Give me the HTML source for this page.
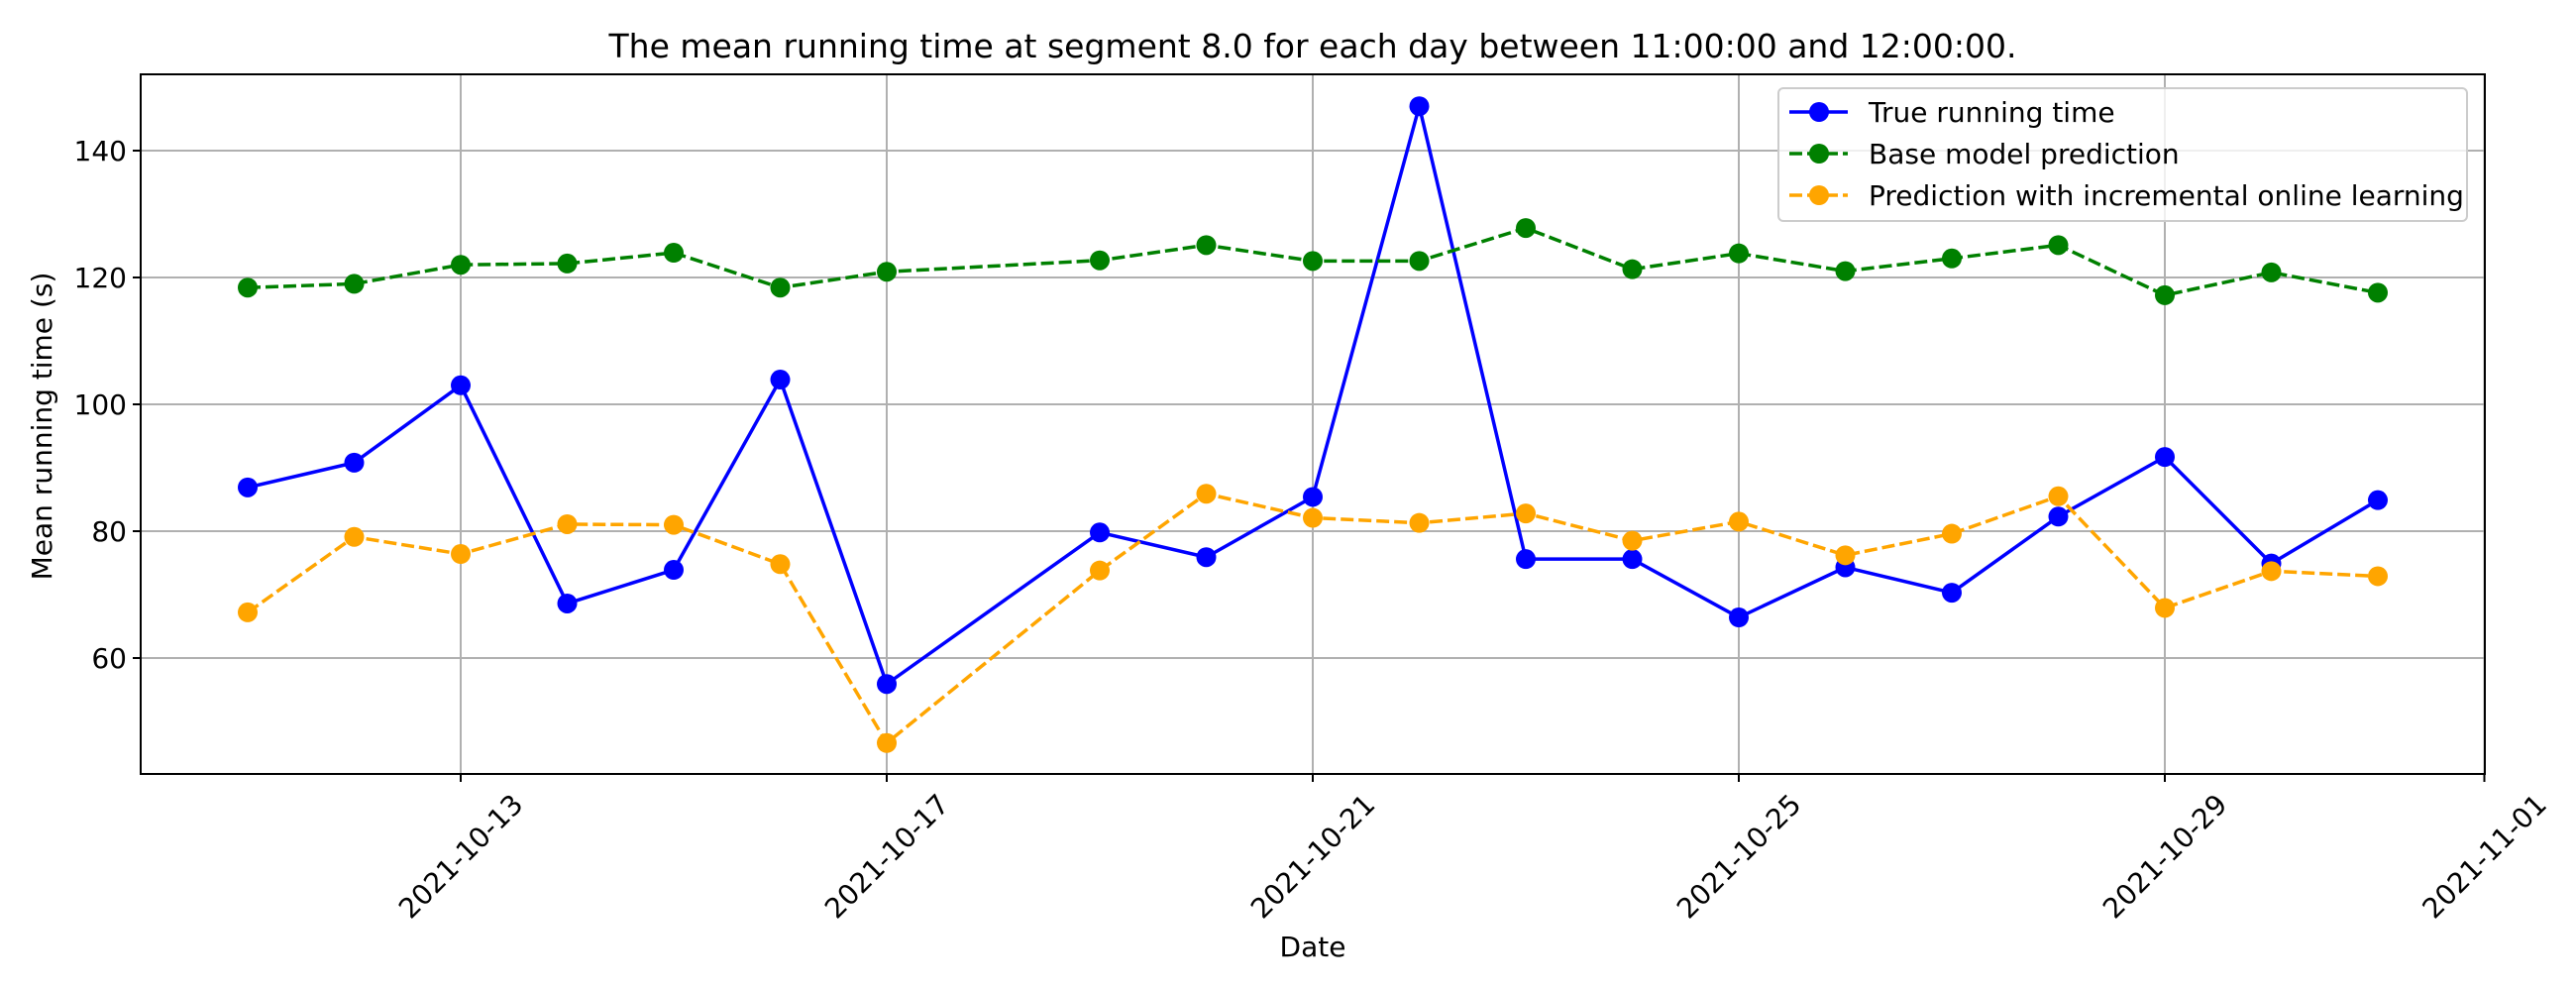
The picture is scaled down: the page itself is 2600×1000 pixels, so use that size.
<!DOCTYPE html>
<html><head><meta charset="utf-8"><style>
html,body{margin:0;padding:0;background:#fff;}
svg{display:block;font-family:"DejaVu Sans","Liberation Sans",sans-serif;}
</style></head><body>
<svg id="chart" width="2600" height="1000" viewBox="0 0 2600 1000" xmlns="http://www.w3.org/2000/svg">
<rect width="2600" height="1000" fill="#fff"/>
<text x="1325" y="58" font-size="33" text-anchor="middle" fill="#000">The mean running time at segment 8.0 for each day between 11:00:00 and 12:00:00.</text>
<g id="grid"></g>
<g id="series"></g>
<rect x="142" y="75" width="2366" height="706" fill="none" stroke="#000" stroke-width="2"/>
<g id="axes"></g>
<text transform="translate(52,430) rotate(-90)" font-size="28" text-anchor="middle">Mean running time (s)</text>
<text x="1325" y="965" font-size="28" text-anchor="middle">Date</text>
<g>
<rect x="1795" y="89" width="695" height="134" rx="5" fill="#fff" fill-opacity="0.8" stroke="#ccc" stroke-width="2"/>
<g><line x1="1806" y1="113" x2="1865" y2="113" stroke="blue" stroke-width="3.5"/><circle cx="1836" cy="113" r="10" fill="blue"/><text x="1886" y="123" font-size="28">True running time</text></g>
<g><line x1="1806" y1="155" x2="1865" y2="155" stroke="green" stroke-width="3.5" stroke-dasharray="13,5"/><circle cx="1836" cy="155" r="10" fill="green"/><text x="1886" y="165" font-size="28">Base model prediction</text></g>
<g><line x1="1806" y1="197" x2="1865" y2="197" stroke="orange" stroke-width="3.5" stroke-dasharray="13,5"/><circle cx="1836" cy="197" r="10" fill="orange"/><text x="1886" y="207" font-size="28">Prediction with incremental online learning</text></g>
</g>
</svg>
<script>
const days = [11,12,13,14,15,16,17,19,20,21,22,23,24,25,26,27,28,29,30,31];
const trueTime = [86.9,90.8,103,68.6,73.9,103.9,55.9,79.8,75.9,85.4,147,75.6,75.6,66.4,74.3,70.3,82.3,91.7,74.9,84.9];
const baseModel = [118.4,119,122,122.2,123.9,118.4,120.9,122.7,125.1,122.6,122.6,127.8,121.3,123.8,121,123,125.1,117.2,120.8,117.6];
const onlineModel = [67.2,79.1,76.4,81.1,81,74.8,46.6,73.8,85.9,82.1,81.3,82.8,78.5,81.5,76.2,79.6,85.5,67.9,73.7,72.9];
const yTicks = [60,80,100,120,140];
const xTickDays = [13,17,21,25,29,32];
const xTickLabels = ["2021-10-13","2021-10-17","2021-10-21","2021-10-25","2021-10-29","2021-11-01"];

const NS = "http://www.w3.org/2000/svg";
const xs = d => 250 + (d - 11) * 107.5;
const ys = v => 664 - (v - 60) * 6.4;
function mk(tag, attrs, parent){const e=document.createElementNS(NS,tag);for(const k in attrs)e.setAttribute(k,attrs[k]);parent.appendChild(e);return e;}
const grid=document.getElementById('grid'), axes=document.getElementById('axes'), series=document.getElementById('series');
yTicks.forEach(v=>{
  const g=mk('line',{x1:142,x2:2508,y1:ys(v),y2:ys(v),stroke:'#b0b0b0','stroke-width':2},grid);
  
  
  mk('line',{x1:134,x2:142,y1:ys(v),y2:ys(v),stroke:'#000','stroke-width':2},axes);
  const t=mk('text',{x:128,y:ys(v)+10,'font-size':28,'text-anchor':'end'},axes);
  
  
  t.textContent=v;
});
xTickDays.forEach((d,i)=>{
  const x=xs(d);
  const g=mk('line',{x1:x,x2:x,y1:75,y2:781,stroke:'#b0b0b0','stroke-width':2},grid);
  
  
  mk('line',{x1:x,x2:x,y1:781,y2:789,stroke:'#000','stroke-width':2},axes);
  const t=mk('text',{transform:`translate(${x},${864}) rotate(-45)`,'font-size':28,'text-anchor':'middle',dy:'0.35em'},axes);
  
  
  t.textContent=xTickLabels[i];
});
function draw(vals,color,dash,name){
  const pts=days.map((d,i)=>xs(d)+','+ys(vals[i])).join(' ');
  const a={points:pts,fill:'none',stroke:color,'stroke-width':3.5,'stroke-linejoin':'round'};
  if(dash)a['stroke-dasharray']='13,5';
  const l=mk('polyline',a,series);
  
  
  days.forEach((d,i)=>{
    const c=mk('circle',{cx:xs(d),cy:ys(vals[i]),r:10,fill:color},series);
    
    
  });
}
draw(trueTime,'blue',false,'true-running-time');
draw(baseModel,'green',true,'base-model-prediction');
draw(onlineModel,'orange',true,'online-learning-prediction');
</script>
</body></html>
